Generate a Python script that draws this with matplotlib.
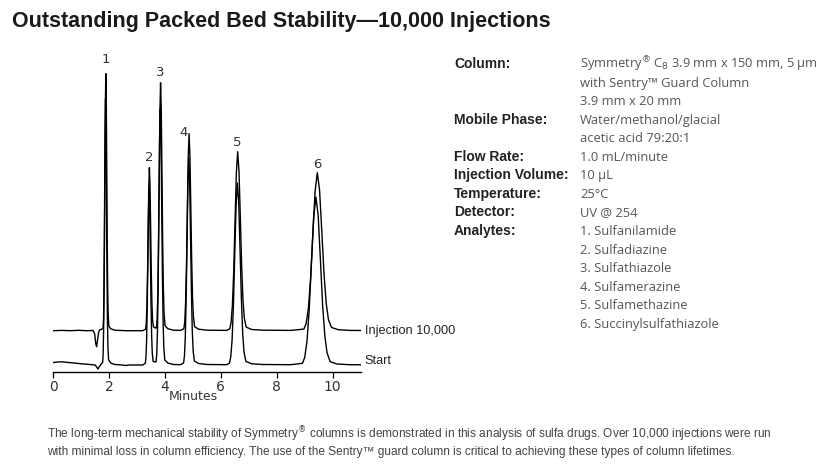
import numpy as np
import matplotlib
matplotlib.use("Agg")
import matplotlib.pyplot as plt

inj_time = [0.0, 0.3, 0.6, 0.9, 1.2, 1.42, 1.48, 1.52, 1.55, 1.58, 1.62, 1.66, 1.72,
            1.781, 1.798, 1.814, 1.831, 1.847, 1.864, 1.88, 1.897, 1.913, 1.930, 1.946, 1.963, 1.986,
            2.05, 2.2, 2.6, 3.2,
            3.305, 3.327, 3.35, 3.372, 3.395, 3.417, 3.44, 3.462, 3.485, 3.507, 3.53, 3.552, 3.584,
            3.63, 3.68,
            3.69, 3.715, 3.74, 3.765, 3.79, 3.815, 3.84, 3.865, 3.89, 3.915, 3.94, 3.965, 4.0,
            4.1, 4.3, 4.55,
            4.674, 4.705, 4.736, 4.767, 4.798, 4.829, 4.86, 4.891, 4.922, 4.953, 4.984, 5.015, 5.058,
            5.2, 5.5, 6.2,
            6.315, 6.363, 6.41, 6.458, 6.505, 6.553, 6.60, 6.648, 6.695, 6.743, 6.79, 6.838, 6.904,
            7.1, 7.5, 8.5,
            8.97, 9.05, 9.13, 9.21, 9.29, 9.37, 9.45, 9.53, 9.61, 9.69, 9.77, 9.85, 9.96,
            10.2, 10.6, 11.0]
inj_signal = [0.0, 0.3, 0.0, 0.4, 0.0, 0.2, -3, -13, -16, -10, -2, 1, 1.2,
              2.6, 11.6, 36, 85, 157, 226, 257, 229, 162, 93, 44, 18, 5,
              2, 0.5, 0, 0,
              1.6, 7.3, 23, 54, 99, 143, 163, 145, 103, 59, 28, 11, 4,
              3, 2.6,
              3.5, 11, 35, 82, 151, 218, 248, 221, 156, 89, 42, 17, 5,
              2, 0.5, 0.3,
              2, 8.9, 28, 65, 120, 173, 197, 175, 124, 71, 33, 14, 4,
              1.5, 0.5, 0.3,
              1.8, 8, 25, 59, 109, 158, 179, 159, 113, 64, 30, 12.5, 3.6,
              1.2, 0.5, 0.3,
              1.6, 7.1, 22, 52, 96, 139, 158, 141, 100, 57, 27, 11, 3.2,
              1, 0.3, 0.2]

start_time = [0.0, 0.15, 0.3, 0.5, 0.8, 1.1, 1.4, 1.5, 1.55, 1.6, 1.64, 1.7,
              1.768, 1.785, 1.802, 1.819, 1.836, 1.853, 1.87, 1.887, 1.904, 1.921, 1.938, 1.955, 1.979,
              2.05, 2.2, 2.4, 2.6, 2.7, 3.2,
              3.295, 3.317, 3.34, 3.362, 3.385, 3.407, 3.43, 3.452, 3.475, 3.497, 3.52, 3.542, 3.574,
              3.62, 3.67,
              3.68, 3.705, 3.73, 3.755, 3.78, 3.805, 3.83, 3.855, 3.88, 3.905, 3.93, 3.955, 3.99,
              4.1, 4.3, 4.55,
              4.664, 4.695, 4.726, 4.757, 4.788, 4.819, 4.85, 4.881, 4.912, 4.943, 4.974, 5.005, 5.048,
              5.2, 5.5, 6.2,
              6.305, 6.353, 6.40, 6.448, 6.495, 6.543, 6.59, 6.638, 6.685, 6.733, 6.78, 6.828, 6.894,
              7.1, 7.5, 8.5,
              8.92, 9.0, 9.08, 9.16, 9.24, 9.32, 9.40, 9.48, 9.56, 9.64, 9.72, 9.80, 9.91,
              10.15, 10.6, 11.0]
start_signal = [2.5, 3.0, 3.2, 2.6, 1.8, 1.0, 0.3, 0.0, -2, -4, -2, 0.5,
                2.7, 12, 37, 88, 162, 234, 266, 237, 168, 96, 45, 19, 5.3,
                2, 0.5, 0.2, -0.5, 0, 0,
                1.8, 7.9, 25, 58, 107, 154, 175, 156, 110, 63, 30, 12, 3.5,
                3.3, 3,
                3.6, 11.5, 36, 84, 156, 225, 256, 228, 161, 92, 44, 18, 5,
                2, 0.5, 0.3,
                2.1, 9.3, 29, 68, 126, 182, 207, 184, 130, 75, 35, 14.5, 4.1,
                1.5, 0.5, 0.3,
                1.8, 8.2, 25, 60, 111, 160, 182, 162, 115, 66, 31, 12.7, 3.6,
                1.2, 0.5, 0.3,
                1.7, 7.6, 23.5, 55, 102, 148, 168, 150, 106, 60, 29, 12, 3.4,
                1, 0.3, 0.2]

peak_labels = ["1", "2", "3", "4", "5", "6"]
peak_rt = [1.88, 3.44, 3.84, 4.86, 6.60, 9.45]

cond_names = {"Column:": 0, "Mobile Phase:": 3, "Flow Rate:": 5, "Injection Volume:": 6,
              "Temperature:": 7, "Detector:": 8, "Analytes:": 9}
cond_values = ["Symmetry$^{\\circledR}$ C$_8$ 3.9 mm x 150 mm, 5 \u00b5m",
               "with Sentry\u2122 Guard Column", "3.9 mm x 20 mm",
               "Water/methanol/glacial", "acetic acid 79:20:1", "1.0 mL/minute",
               "10 \u00b5L", "25\u00b0C", "UV @ 254",
               "1. Sulfanilamide", "2. Sulfadiazine", "3. Sulfathiazole",
               "4. Sulfamerazine", "5. Sulfamethazine", "6. Succinylsulfathiazole"]

caption = ["The long-term mechanical stability of Symmetry$^{\\circledR}$ columns is demonstrated in this analysis of sulfa drugs. Over 10,000 injections were run",
           "with minimal loss in column efficiency. The use of the Sentry\u2122 guard column is critical to achieving these types of column lifetimes."]

W, H = 836, 476
INJ_OFF = 41
START_OFF = 6.7

fig = plt.figure(figsize=(W / 100, H / 100), dpi=100)
fig.patch.set_facecolor("white")

def px(x, y):
    return x / W, 1 - y / H

ax = fig.add_axes([53.3 / W, 1 - 371.7 / H, 307.3 / W, 321.7 / H])
ax.plot(inj_time, np.array(inj_signal) + INJ_OFF, color="black", lw=1.0)
ax.plot(start_time, np.array(start_signal) + START_OFF, color="black", lw=1.0)
ax.set_xlim(0, 11)
ax.set_ylim(0, 321.7)
for s in ["left", "right", "top"]:
    ax.spines[s].set_visible(False)
ax.spines["bottom"].set_linewidth(1.0)
ax.set_yticks([])
ax.set_xticks([0, 2, 4, 6, 8, 10])
ax.tick_params(axis="x", direction="out", length=4, width=0.9, labelsize=10,
               labelcolor="#333333", pad=2)
ax.set_xlabel("Minutes", fontsize=9, color="#333333")
ax.xaxis.set_label_coords(5 / 11, -0.058)

offsets = [(0, 14), (0, 10), (0, 10), (-6, 1), (0, 9), (0, 8)]
for lab, rt, off in zip(peak_labels, peak_rt, offsets):
    ytop = max(np.interp(rt, inj_time, inj_signal) + INJ_OFF,
               np.interp(rt, start_time, start_signal) + START_OFF)
    ax.annotate(lab, (rt, ytop), xytext=off, textcoords="offset pixels",
                ha="center", va="center", fontsize=9.5, color="#333333")

sans = ["Liberation Sans", "DejaVu Sans"]
ax.text(11.15, INJ_OFF, "Injection 10,000", fontsize=9.2, color="#222222", family=sans,
        va="center", ha="left", clip_on=False)
ax.text(11.15, START_OFF + 4, "Start", fontsize=9.2, color="#222222", family=sans,
        va="center", ha="left", clip_on=False)

fig.text(*px(12, 22), "Outstanding Packed Bed Stability\u201410,000 Injections",
         fontsize=15.5, fontweight="bold", family=sans, color="#1a1a1a",
         va="center", ha="left")

for i, val in enumerate(cond_values):
    fig.text(*px(580, 68 + 18.55 * i), val, fontsize=9.3, color="#555555",
             va="baseline", ha="left", family=["Open Sans", "DejaVu Sans"])
for name, i in cond_names.items():
    fig.text(*px(454, 68 + 18.55 * i), name, fontsize=10, fontweight="bold",
             color="#222222", va="baseline", ha="left", family=sans)

for k, line in enumerate(caption):
    fig.text(*px(47, 434 + 18 * k), line, fontsize=8.6, color="#444444",
             va="center", ha="left", family=sans)

fig.savefig("out.png", dpi=100)
